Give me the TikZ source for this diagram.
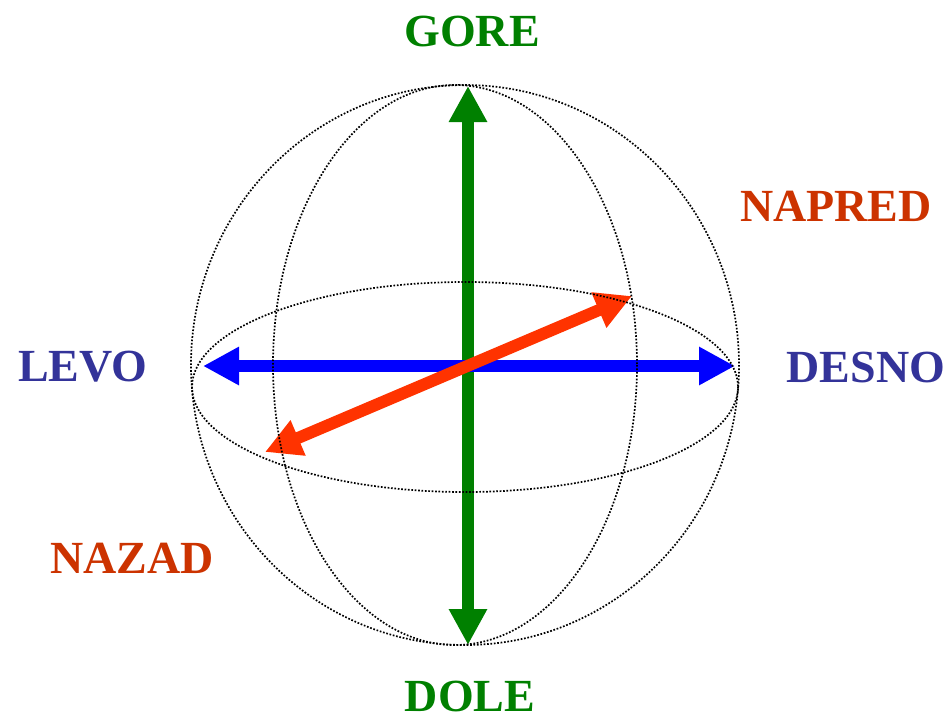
\documentclass[tikz,border=0pt]{standalone}
\usepackage{fontspec}
\setmainfont{Liberation Serif}
\usetikzlibrary{arrows.meta}
\definecolor{axgreen}{RGB}{0,128,0}
\definecolor{axblue}{RGB}{0,0,255}
\definecolor{axred}{RGB}{255,51,0}
\definecolor{txtblue}{RGB}{51,51,153}
\definecolor{txtred}{RGB}{204,51,0}
\tikzset{
  grid/.style={draw=black, line width=1.7pt, dash pattern=on 1.7pt off 1.7pt},
  axis/.style={line width=12pt, {Triangle[length=36pt,width=36pt]}-{Triangle[length=36pt,width=36pt]}},
  lbl/.style={inner sep=0pt, font=\fontsize{46}{46}\selectfont\bfseries}
}
\begin{document}
\begin{tikzpicture}[x=1pt,y=-1pt]
\useasboundingbox (0,0) rectangle (952,721);
% axes
\coordinate (top) at (468,86);
\coordinate (bot) at (468,645);
\coordinate (lft) at (203,366);
\coordinate (rgt) at (735,366);
\coordinate (bck) at (265,452);
\coordinate (fwd) at (632,296);
\draw[axis, axgreen, fill=axgreen] (bot) -- (top);
\draw[axis, axblue, fill=axblue] (lft) -- (rgt);
\draw[axis, axred, fill=axred] (bck) -- (fwd);
% sphere
\coordinate (c) at (465,365);
\draw[grid] (c) ellipse [x radius=274, y radius=280];
\draw[grid] (455,365) ellipse [x radius=182, y radius=280];
\draw[grid] (465,387) ellipse [x radius=273, y radius=105];
% labels
\node[lbl, text=axgreen] (gore) at (472,31) {GORE};
\node[lbl, text=axgreen] (dole) at (470,696) {DOLE};
\node[lbl, text=txtblue] (levo) at (83,367) {LEVO};
\node[lbl, text=txtblue] (desno) at (866,367) {DESNO};
\node[lbl, text=txtred] (napred) at (836,206) {NAPRED};
\node[lbl, text=txtred] (nazad) at (132,558) {NAZAD};
\end{tikzpicture}
\end{document}
